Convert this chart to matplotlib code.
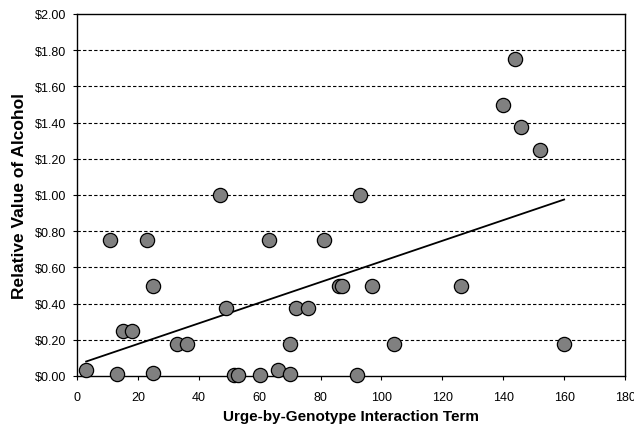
import matplotlib
matplotlib.use("Agg")
import matplotlib.pyplot as plt
from matplotlib.ticker import FuncFormatter

plt.rcParams['font.family'] = ['Liberation Sans', 'DejaVu Sans']

urge_x = [3, 11, 13, 15, 18, 23, 25, 25, 33, 36, 47, 49, 51.5, 53, 60, 63, 66,
          70, 70, 72, 76, 81, 86, 87, 92, 93, 97, 104, 126, 140, 144, 146, 152, 160]
value_y = [0.035, 0.75, 0.01, 0.25, 0.25, 0.75, 0.50, 0.015, 0.175, 0.175, 1.00,
           0.375, 0.005, 0.005, 0.005, 0.75, 0.035, 0.175, 0.01, 0.375, 0.375,
           0.75, 0.50, 0.50, 0.005, 1.00, 0.50, 0.175, 0.50, 1.50, 1.75, 1.375,
           1.25, 0.175]
trend_x = [3, 160]
trend_y = [0.08, 0.975]

x_ticks = [0, 20, 40, 60, 80, 100, 120, 140, 160, 180]
y_ticks = [0.0, 0.2, 0.4, 0.6, 0.8, 1.0, 1.2, 1.4, 1.6, 1.8, 2.0]

fig = plt.figure(figsize=(6.34, 4.27), dpi=100)
ax = fig.add_axes([77/634, 1 - 377/427, (625 - 77)/634, (377 - 15)/427])

for yv in y_ticks[1:-1]:
    ax.axhline(yv, color='black', linestyle=(0, (3, 2)), linewidth=0.8, zorder=1)

ax.plot(trend_x, trend_y, color='black', linewidth=1.3, zorder=2)
ax.scatter(urge_x, value_y, s=105, facecolor='#808080', edgecolor='black',
           linewidths=0.9, zorder=3, clip_on=False)

ax.set_xlim(0, 180)
ax.set_ylim(0, 2.0)
ax.set_xticks(x_ticks)
ax.set_yticks(y_ticks)
ax.yaxis.set_major_formatter(FuncFormatter(lambda v, p: f"${v:.2f}"))
ax.tick_params(direction='out', length=3, width=0.8, labelsize=9)
ax.tick_params(axis='x', pad=7.5)
ax.tick_params(axis='y', pad=4.5)

for s in ax.spines.values():
    s.set_linewidth(1.0)
    s.set_color('black')

ax.set_xlabel('Urge-by-Genotype Interaction Term', fontsize=11, fontweight='bold', labelpad=4.5)
ax.set_ylabel('Relative Value of Alcohol', fontsize=12.5, fontweight='bold', labelpad=6)

fig.savefig('out.png', dpi=100)
